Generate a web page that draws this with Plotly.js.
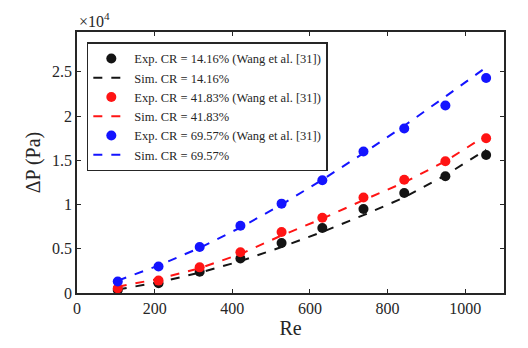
<!DOCTYPE html>
<html>
<head>
<meta charset="utf-8">
<script src="https://cdn.plot.ly/plotly-3.0.1.min.js"></script>
<style>body{margin:0;background:#fff}#plot{width:528px;height:348px}</style>
</head>
<body>
<div id="plot"></div>
<script>
const re = [105, 210, 316, 421, 527, 632, 738, 843, 949, 1054];

const expCR14 = [350, 1100, 2400, 3900, 5650, 7350, 9500, 11300, 13200, 15600];
const simCR14 = [400, 1200, 2300, 3600, 5200, 6900, 8800, 10800, 13300, 16200];
const expCR41 = [530, 1400, 2900, 4600, 6900, 8500, 10800, 12800, 14900, 17500];
const simCR41 = [700, 1600, 2800, 4400, 6500, 8400, 10500, 12500, 14900, 17800];
const expCR69 = [1300, 3000, 5200, 7600, 10100, 12750, 16000, 18600, 21200, 24300];
const simCR69 = [1400, 3100, 5100, 7400, 10000, 12800, 15800, 18900, 22200, 25500];

const xTicks = [0, 200, 400, 600, 800, 1000];
const yTicks = [0, 5000, 10000, 15000, 20000, 25000];
const yTickText = ['0', '0.5', '1', '1.5', '2', '2.5'];

const font = 'Liberation Serif, DejaVu Serif, serif';

function expTrace(y, color, name) {
    return {x: re, y: y, mode: 'markers', type: 'scatter', name: name,
        marker: {color: color, size: 10}};
}
function simTrace(y, color, name) {
    return {x: re, y: y, mode: 'lines', type: 'scatter', name: name,
        line: {color: color, width: 2, dash: 'dash'}};
}

const data = [
    expTrace(expCR14, 'rgb(20,20,20)', 'Exp. CR = 14.16% (Wang et al. [31])'),
    simTrace(simCR14, 'rgb(20,20,20)', 'Sim. CR = 14.16%'),
    expTrace(expCR41, 'rgb(255,20,20)', 'Exp. CR = 41.83% (Wang et al. [31])'),
    simTrace(simCR41, 'rgb(255,20,20)', 'Sim. CR = 41.83%'),
    expTrace(expCR69, 'rgb(20,20,255)', 'Exp. CR = 69.57% (Wang et al. [31])'),
    simTrace(simCR69, 'rgb(20,20,255)', 'Sim. CR = 69.57%')
];

const layout = {
    width: 528, height: 348,
    margin: {l: 77, r: 24, t: 32, b: 55},
    paper_bgcolor: '#fff', plot_bgcolor: '#fff',
    font: {family: font, size: 16, color: '#262626'},
    showlegend: true,
    legend: {
        x: 0.023, y: 0.96, xanchor: 'left', yanchor: 'top',
        bgcolor: '#fff', bordercolor: '#262626', borderwidth: 1.5,
        font: {family: font, size: 12.5, color: '#262626'},
        tracegroupgap: 0, itemwidth: 36
    },
    xaxis: {
        range: [0, 1100], tickvals: xTicks,
        ticks: 'inside', ticklen: 4, tickcolor: '#262626',
        showline: true, linecolor: '#262626', linewidth: 1.5, mirror: 'ticks',
        showgrid: false, zeroline: false,
        title: {text: 'Re', font: {family: font, size: 20}, standoff: 4}
    },
    yaxis: {
        range: [0, 29500], tickvals: yTicks, ticktext: yTickText,
        ticks: 'inside', ticklen: 4, tickcolor: '#262626',
        showline: true, linecolor: '#262626', linewidth: 1.5, mirror: 'ticks',
        showgrid: false, zeroline: false,
        title: {text: 'ΔP (Pa)', font: {family: font, size: 20}, standoff: 6}
    },
    annotations: [{
        xref: 'paper', yref: 'paper', x: 0, y: 1, xanchor: 'left', yanchor: 'bottom',
        text: '×10<sup>4</sup>', showarrow: false, yshift: 0,
        font: {family: font, size: 16, color: '#262626'}
    }]
};

Plotly.newPlot('plot', data, layout, {displayModeBar: false});
</script>
</body>
</html>
